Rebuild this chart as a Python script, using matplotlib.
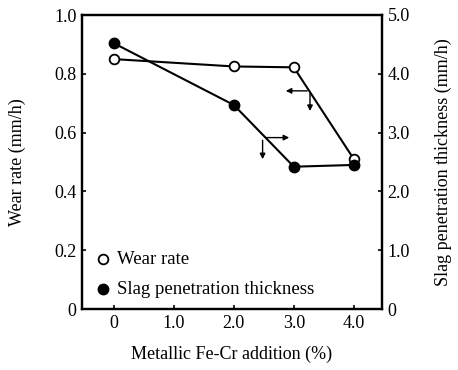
import matplotlib.pyplot as plt

# Data
fe_cr = [0, 2.0, 3.0, 4.0]
wear_rate = [0.85, 0.825, 0.822, 0.51]
slag_thickness = [4.52, 3.47, 2.42, 2.45]

x_ticks = [0, 1.0, 2.0, 3.0, 4.0]
x_labels = ["0", "1.0", "2.0", "3.0", "4.0"]
left_ticks = [0, 0.2, 0.4, 0.6, 0.8, 1.0]
left_labels = ["0", "0.2", "0.4", "0.6", "0.8", "1.0"]
right_ticks = [0, 1.0, 2.0, 3.0, 4.0, 5.0]
right_labels = ["0", "1.0", "2.0", "3.0", "4.0", "5.0"]

plt.rcParams['font.family'] = ['Liberation Serif', 'DejaVu Serif']

fig = plt.figure(figsize=(4.58, 3.70), dpi=100)
ax = fig.add_axes([82 / 458, 61 / 370, 300 / 458, 294 / 370])
ax2 = ax.twinx()

ax.plot(fe_cr, wear_rate, color='black', lw=1.5, marker='o', ms=7,
        mfc='white', mec='black', mew=1.3, zorder=3)
ax2.plot(fe_cr, slag_thickness, color='black', lw=1.5, marker='o', ms=7.5,
         mfc='black', mec='black', zorder=3)

ax.set_xlim(-0.53, 4.47)
ax.set_ylim(0, 1.0)
ax2.set_ylim(0, 5.0)

ax.set_xticks(x_ticks)
ax.set_xticklabels(x_labels)
ax.set_yticks(left_ticks)
ax.set_yticklabels(left_labels)
ax2.set_yticks(right_ticks)
ax2.set_yticklabels(right_labels)

for a in (ax, ax2):
    a.tick_params(direction='in', length=3, width=1.2, labelsize=13, pad=4)
    for s in a.spines.values():
        s.set_linewidth(1.6)

ax.set_xlabel("Metallic Fe-Cr addition (%)", fontsize=13, labelpad=10)
ax.set_ylabel("Wear rate (mm/h)", fontsize=13, labelpad=20)
ax2.set_ylabel("Slag penetration thickness (mm/h)", fontsize=13, labelpad=18)

# Arrows showing which axis each line belongs to
arrow = dict(arrowstyle='-|>', color='black', lw=1.0, mutation_scale=8)
ax.annotate("", xy=(2.82, 0.742), xytext=(3.27, 0.742), arrowprops=arrow)
ax.annotate("", xy=(3.27, 0.664), xytext=(3.27, 0.742), arrowprops=arrow)
ax.annotate("", xy=(2.97, 0.583), xytext=(2.48, 0.583), arrowprops=arrow)
ax.annotate("", xy=(2.48, 0.50), xytext=(2.48, 0.583), arrowprops=arrow)

# Legend
ax.plot([-0.18], [0.17], marker='o', ms=7, mfc='white', mec='black', mew=1.3)
ax.plot([-0.18], [0.068], marker='o', ms=7.5, mfc='black', mec='black')
ax.text(0.05, 0.17, "Wear rate", fontsize=13.5, va='center')
ax.text(0.05, 0.068, "Slag penetration thickness", fontsize=13.5, va='center')

fig.savefig("out.png", dpi=100)
